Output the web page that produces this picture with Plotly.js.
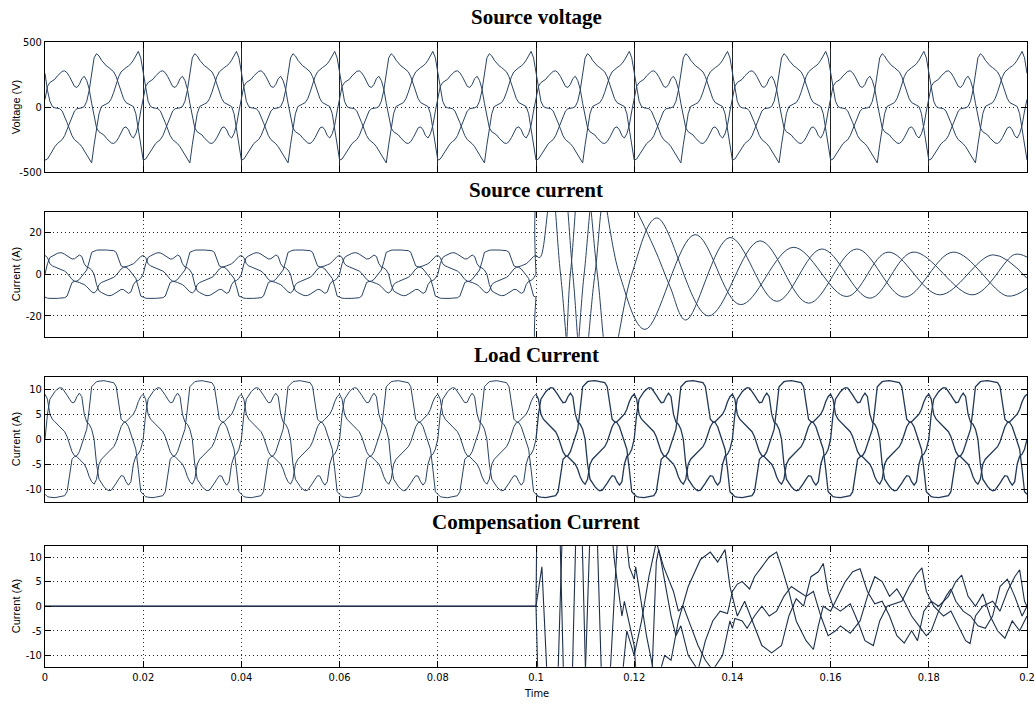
<!DOCTYPE html>
<html><head><meta charset="utf-8">
<script src="https://cdn.plot.ly/plotly-3.0.1.min.js"></script>
<style>html,body{margin:0;padding:0;background:#fff}#chart{width:1035px;height:704px}</style>
</head><body><div id="chart"></div>
<script>
// ---------- data ----------
const period = 0.02;                 // one 50 Hz cycle (s)
const stepMs = 0.5;                  // sample spacing of the one-cycle tables (ms)
// Source voltage, one cycle per phase (V)
const voltA = [-408,-400,-370,-335,-305,-282,-265,-250,-220,-170,-120,-70,-30,-12,-8,-5,5,45,130,260,380,412,395,362,335,318,305,292,272,235,180,115,65,35,25,18,5,-50,-160,-290,-408];
const voltB = [260,130,45,5,-5,-8,-12,-30,-70,-120,-170,-220,-250,-265,-282,-305,-335,-370,-400,-430,-290,-160,-50,5,18,25,35,65,115,180,235,272,292,305,318,335,362,400,430,380,260];
const voltC = [60,160,190,200,215,240,262,276,280,265,235,195,160,152,175,220,238,205,140,30,-60,-160,-190,-200,-215,-240,-262,-276,-280,-265,-235,-195,-160,-152,-175,-220,-238,-205,-140,-30,60];
// Load current, one cycle per phase (A)
const loadA = [-11,-11.5,-11.6,-11.7,-11.7,-11.6,-11.5,-11.5,-11.3,-10.5,-7,-4,-3.5,-3.3,-2.5,-1,0.5,2,6,10.5,11,11.5,11.6,11.7,11.7,11.6,11.5,11.5,11.3,10.5,7,4,3.5,3.3,2.5,1,-0.5,-2,-6,-10.5,-11];
const loadB = [0,5,8,8.8,9.5,10,10.3,10.2,9.6,8.8,8,7.3,7.4,8.5,9.2,8.5,5,3.4,3,2,0,-5,-8,-8.8,-9.5,-10,-10.3,-10.2,-9.6,-8.8,-8,-7.3,-7.4,-8.5,-9.2,-8.5,-5,-3.4,-3,-2,0];
const loadC = [9,8,5,4,3.5,3,2.5,2,1.5,0.5,-1,-2.5,-3.3,-3.5,-4,-4.5,-5,-6,-7.5,-8.5,-9,-8,-5,-4,-3.5,-3,-2.5,-2,-1.5,-0.5,1,2.5,3.3,3.5,4,4.5,5,6,7.5,8.5,9];
// Source current after the compensator starts (t >= 0.1 s): turning points
const srcPostTA = [0.1,0.1005,0.1045,0.107,0.1095,0.1125,0.115,0.1195,0.1246,0.1351,0.1456,0.1555,0.1653,0.175,0.185,0.196,0.2];
const srcPostA  = [-11,-45,-55,0,60,0,-45,0,27,-20,16,-13.9,12.1,-11,10.6,-10.5,-6.8];
const srcPostTB = [0.1,0.1003,0.1025,0.105,0.1075,0.1098,0.1125,0.117,0.1222,0.1324,0.1416,0.1524,0.1633,0.1717,0.1822,0.1931,0.2];
const srcPostB  = [0,40,50,0,-55,0,50,0,-26.5,19,-14.6,12.9,-10.7,10.6,-9.9,9.3,-2];
const srcPostTC = [0.1,0.1008,0.103,0.105,0.1075,0.1095,0.112,0.115,0.1185,0.124,0.1273,0.1305,0.1395,0.149,0.1582,0.168,0.1768,0.189,0.1975,0.2];
const srcPostC  = [9,8,40,55,0,-50,0,45,38,13,-6,-22,17.6,-13,12.1,-11.5,10.6,-9.9,9.5,8.2];
// Compensation current (A)
const compTA = [0,0.1,0.1008,0.104,0.1058,0.109,0.1105,0.113,0.1152,0.1172,0.119,0.12,0.1203,0.1225,0.1245,0.1262,0.1275,0.129,0.131,0.1335,0.1355,0.137,0.1385,0.1395,0.14,0.141,0.1425,0.144,0.146,0.148,0.15,0.1515,0.153,0.1545,0.156,0.1575,0.1585,0.1595,0.1605,0.162,0.164,0.1655,0.167,0.1687,0.17,0.1715,0.173,0.1745,0.176,0.1775,0.1786,0.1795,0.181,0.183,0.1845,0.186,0.1875,0.1884,0.1895,0.191,0.193,0.1945,0.196,0.1975,0.1985,0.1995,0.2];
const compA  = [0,0,-30,-30,30,30,-30,-30,-12,25,8,5.5,8,-6,-16,-10,-11,-3,4,9.5,11,9,11.5,4,2,-2,1,-3,-8,-9.5,-8,-2,1.5,0,6,7,8.7,3,0,-1,0.5,-3,-7,-8,-3,0,0.5,1,4,6.5,7.8,3,0,-2,-1,-4,-7,-7.6,-2,0,1,-1,3,6,7.4,1,0];
const compTB = [0,0.1,0.1003,0.1045,0.106,0.1095,0.1115,0.114,0.116,0.1175,0.118,0.12,0.1215,0.123,0.1245,0.125,0.1255,0.1275,0.1285,0.1295,0.131,0.133,0.1345,0.136,0.1375,0.139,0.14,0.141,0.142,0.1435,0.1445,0.146,0.1475,0.149,0.15,0.1515,0.153,0.155,0.1565,0.1575,0.1585,0.16,0.1615,0.163,0.1645,0.166,0.1675,0.169,0.1705,0.172,0.1735,0.175,0.1765,0.1777,0.179,0.1805,0.182,0.184,0.1855,0.1867,0.188,0.1895,0.191,0.1925,0.194,0.1955,0.197,0.1985,0.2];
const compB  = [0,0,30,30,-30,-30,30,30,9,-2,1,-8,-30,-30,9,11.5,9,-2,-6,-4,-10,-13,-7,-3,-1,-1.5,3,4.5,5,3.5,6,8,10,11,8,3,-3,-7,-8.8,-4,0,-1,2,5,7,7.6,3,0.5,1,-2,-6,-7.5,-5,-7,-1,1,0,2,5,6.3,2,0,2.5,-2,-5,-6.5,-3,-5,-2];
const compTC = [0,0.1,0.1012,0.103,0.107,0.1085,0.112,0.1138,0.116,0.1185,0.12,0.1215,0.123,0.1245,0.126,0.128,0.129,0.13,0.1315,0.133,0.1345,0.136,0.138,0.1395,0.14,0.1405,0.142,0.143,0.1445,0.146,0.1475,0.149,0.1505,0.152,0.1535,0.155,0.1565,0.158,0.1595,0.161,0.162,0.164,0.166,0.1675,0.169,0.1705,0.172,0.1735,0.175,0.1765,0.178,0.1795,0.1805,0.182,0.1835,0.1845,0.1855,0.187,0.1885,0.19,0.1915,0.193,0.1945,0.196,0.1975,0.199,0.2];
const compC  = [0,0,8,-30,-30,30,30,-30,-30,-5,-10,-3,6,13,8,3,-1,0,-4,-8,-11,-13,-10,-3,-4.5,-2.5,-3,-4.5,-2,0,-2,-1,2,4,3,2,3,-2,-6,-5,-4,-5.5,-3,2,6,5,2,3.5,1,-2,-4,-6,-5,-1,2,3.5,1,-1,-2,-4,-4.5,-2,4,5.5,2,-2,0];
// Axis ticks
const timeTicks = [0,0.02,0.04,0.06,0.08,0.1,0.12,0.14,0.16,0.18,0.2];
const timeLabels = ['0','0.02','0.04','0.06','0.08','0.1','0.12','0.14','0.16','0.18','0.2'];
const voltTicks = [-500,0,500];
const voltLabels = ['-500','0','500'];
const srcTicks = [-20,0,20];
const srcLabels = ['-20','0','20'];
const loadTicks = [-10,-5,0,5,10];
const loadLabels = ['-10','-5','0','5','10'];
const titles = ['Source voltage','Source current','Load Current','Compensation Current'];
const yTitles = ['Voltage (V)','Current (A)','Current (A)','Current (A)'];

// ---------- build ----------
function tile(vals, k0, k1){
  const x=[], y=[];
  for(let k=k0;k<k1;k++){
    for(let i=(k===k0?0:1);i<vals.length;i++){
      x.push(+(k*period + i*stepMs/1000).toFixed(6));
      y.push(vals[i]);
    }
  }
  return {x,y};
}
const LC = '#2a4262';
const traces = [];
function add(d, ax, opts){
  traces.push(Object.assign({type:'scatter',mode:'lines',x:d.x,y:d.y,xaxis:'x'+ax,yaxis:'y'+ax,
    line:{color:LC,width:1},hoverinfo:'skip',showlegend:false},opts||{}));
}
[voltA,voltB,voltC].forEach(v=>add(tile(v,0,10),''));
[loadA,loadB,loadC].forEach(v=>add(tile(v,0,5),'2'));
[[srcPostTA,srcPostA],[srcPostTB,srcPostB],[srcPostTC,srcPostC]].forEach(p=>add({x:p[0],y:p[1]},'2',{line:{color:LC,width:1,shape:'spline',smoothing:1}}));
[loadA,loadB,loadC].forEach(v=>add(tile(v,0,5),'3'));
[loadA,loadB,loadC].forEach(v=>add(tile(v,5,10),'3',{line:{color:'#223856',width:1.3}}));
[[compTA,compA],[compTB,compB],[compTC,compC]].forEach(p=>add({x:p[0],y:p[1]},'4',{line:{color:'#1d2f4a',width:1.1}}));

const W=1035,H=704;
const tickFont = {family:'"Liberation Sans Narrow","Arial Narrow","DejaVu Sans Condensed",sans-serif',size:11,color:'#000'};
const dotted = '1px,3px';
function xax(labels, solid){
  return {range:[0,0.2],domain:[0,1],showline:true,mirror:'ticks',linecolor:'#000',linewidth:1,
    ticks:'inside',ticklen:6,tickcolor:'#000',tickvals:timeTicks,ticktext:timeLabels,showticklabels:labels,
    showgrid:true,gridcolor:solid?'#222':'#333',griddash:solid?'solid':dotted,gridwidth:1,zeroline:false,tickfont:tickFont,fixedrange:true};
}
function yax(r, tv, tt, dom){
  return {range:r,domain:dom,showline:true,mirror:'ticks',linecolor:'#000',linewidth:1,ticks:'inside',ticklen:6,tickcolor:'#000',
    tickvals:tv,ticktext:tt,showgrid:true,gridcolor:'#222',griddash:dotted,gridwidth:1,zeroline:false,tickfont:tickFont,fixedrange:true};
}
const boxes = [[42.3,172],[211.7,336.7],[376.7,501.7],[545.7,666.7]];
const doms = boxes.map(b=>[1-b[1]/H, 1-b[0]/H]);
const layout = {
  width:W,height:H,margin:{l:45,r:8,t:0,b:0},paper_bgcolor:'#fff',plot_bgcolor:'#fff',showlegend:false,
  xaxis:Object.assign(xax(false,true),{anchor:'y'}),
  xaxis2:Object.assign(xax(false,false),{anchor:'y2'}),
  xaxis3:Object.assign(xax(false,false),{anchor:'y3'}),
  xaxis4:Object.assign(xax(true,false),{anchor:'y4'}),
  yaxis:Object.assign(yax([-500,500],voltTicks,voltLabels,doms[0]),{anchor:'x'}),
  yaxis2:Object.assign(yax([-30,30],srcTicks,srcLabels,doms[1]),{anchor:'x2'}),
  yaxis3:Object.assign(yax([-12.5,12.5],loadTicks,loadLabels,doms[2]),{anchor:'x3'}),
  yaxis4:Object.assign(yax([-12.3,12.3],loadTicks,loadLabels,doms[3]),{anchor:'x4'}),
  annotations:[]
};
const titleY = [17,190,355,522];
titles.forEach((t,i)=>layout.annotations.push({text:'<b>'+t+'</b>',xref:'paper',yref:'paper',x:0.5,y:1-titleY[i]/H,
  xanchor:'center',yanchor:'middle',showarrow:false,font:{family:'"Liberation Serif","Times New Roman",serif',size:21,color:'#000'}}));
yTitles.forEach((t,i)=>layout.annotations.push({text:t,xref:'paper',yref:'paper',x:(16-45)/982,y:(doms[i][0]+doms[i][1])/2,
  xanchor:'center',yanchor:'middle',textangle:-90,showarrow:false,font:{family:'"Liberation Sans",Arial,sans-serif',size:11,color:'#000'}}));
layout.annotations.push({text:'Time',xref:'paper',yref:'paper',x:0.5,y:1-693/H,xanchor:'center',yanchor:'middle',showarrow:false,font:tickFont});
Plotly.newPlot('chart',traces,layout,{staticPlot:true,displayModeBar:false});
</script></body></html>
